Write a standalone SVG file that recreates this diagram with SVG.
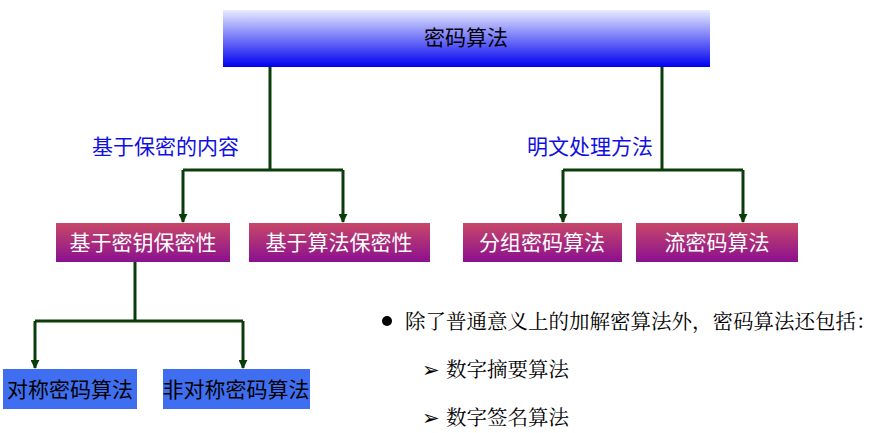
<svg xmlns="http://www.w3.org/2000/svg" width="889" height="433" viewBox="0 0 889 433">
<style>
.t{font-family:"Liberation Sans","Noto Sans CJK SC",sans-serif;font-size:21px;text-anchor:middle}
.w{fill:#fff}
.lbl{fill:#1010e0;font-family:"Liberation Sans","Noto Sans CJK SC",sans-serif;font-size:21px}
.s{font-family:"Liberation Serif","Noto Serif CJK SC","Noto Sans CJK SC",serif;font-size:20.5px;fill:#000}
.c{stroke:#0b3d0b;stroke-width:3;fill:none}
</style>
<defs>
<linearGradient id="gb" x1="0" y1="0" x2="0" y2="1"><stop offset="0" stop-color="#e8ecff"/><stop offset="1" stop-color="#0000f0"/></linearGradient>
<linearGradient id="gr" x1="0" y1="0" x2="0" y2="1"><stop offset="0" stop-color="#c84868"/><stop offset="1" stop-color="#8a1090"/></linearGradient>
<marker id="a" viewBox="0 0 10 10" refX="9" refY="5" markerWidth="3" markerHeight="3" orient="auto"><path d="M0,0L10,5L0,10z" fill="#0b3d0b"/></marker>
</defs>
<g id="connectors">
<path class="c" d="M270,67V170"/><path class="c" d="M183,170H343"/>
<path class="c" d="M183,170V222" marker-end="url(#a)"/><path class="c" d="M343,170V222" marker-end="url(#a)"/>
<path class="c" d="M662,67V170"/><path class="c" d="M563,170H743"/>
<path class="c" d="M563,170V222" marker-end="url(#a)"/><path class="c" d="M743,170V222" marker-end="url(#a)"/>
<path class="c" d="M135,262V321"/><path class="c" d="M35,321H243"/>
<path class="c" d="M35,321V368" marker-end="url(#a)"/><path class="c" d="M243,321V368" marker-end="url(#a)"/>
</g>
<g id="root"><rect x="223" y="10" width="487" height="57" fill="url(#gb)"/><text class="t" x="466" y="45">密码算法</text></g>
<text class="lbl" x="92" y="154">基于保密的内容</text>
<text class="lbl" x="527" y="154">明文处理方法</text>
<g id="n1"><rect x="56" y="223" width="174" height="39" fill="url(#gr)"/><text class="t w" x="143" y="250">基于密钥保密性</text></g>
<g id="n2"><rect x="249" y="223" width="181" height="39" fill="url(#gr)"/><text class="t w" x="339" y="250">基于算法保密性</text></g>
<g id="n3"><rect x="463" y="223" width="159" height="39" fill="url(#gr)"/><text class="t w" x="542" y="250">分组密码算法</text></g>
<g id="n4"><rect x="636" y="223" width="162" height="39" fill="url(#gr)"/><text class="t w" x="717" y="250">流密码算法</text></g>
<g id="n5"><rect x="3" y="369" width="134" height="40" fill="#3f6ff0"/><text class="t" x="70" y="397" font-size="22">对称密码算法</text></g>
<g id="n6"><rect x="163" y="369" width="147" height="40" fill="#3f6ff0"/><text class="t" x="236" y="397" font-size="21">非对称密码算法</text></g>
<circle cx="387" cy="321" r="5" fill="#000"/>
<text class="s" x="405" y="329">除了普通意义上的加解密算法外，密码算法还包括：</text>
<text class="s" x="422" y="377" font-size="15">➢</text><text class="s" x="446" y="377">数字摘要算法</text>
<text class="s" x="422" y="425" font-size="15">➢</text><text class="s" x="446" y="425">数字签名算法</text>
</svg>
